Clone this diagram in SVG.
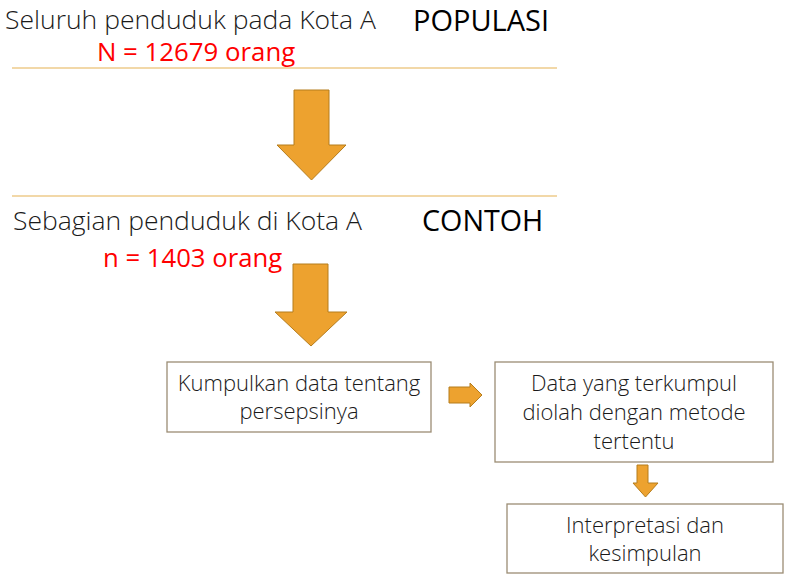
<svg xmlns="http://www.w3.org/2000/svg" width="797" height="586" viewBox="0 0 797 586">
<style>
.t{font-family:"Open Sans","Liberation Sans",sans-serif;font-weight:300;fill:#1a1a1a}
.h{font-family:"Open Sans","Liberation Sans",sans-serif;font-weight:400;fill:#000}
.r{font-family:"Open Sans","Liberation Sans",sans-serif;font-weight:400;fill:#ff0000}
.sep{stroke:#f2d8a8;stroke-width:2}
.arr{fill:#eda22f;stroke:#b57d1d;stroke-width:1}
.box{fill:#fff;stroke:#9b8d74;stroke-width:1.3}
</style>
<rect width="797" height="586" fill="#fff"/>
<g id="populasi">
<text class="t" x="5" y="28.5" font-size="26.5">Seluruh penduduk pada Kota A</text>
<text class="h" x="413" y="31" font-size="29">POPULASI</text>
<text class="r" x="97" y="61" font-size="25.8">N = 12679 orang</text>
<line class="sep" x1="12" y1="68" x2="557" y2="68"/>
</g>
<g id="contoh">
<line class="sep" x1="12" y1="196" x2="557" y2="196"/>
<text class="t" x="13" y="230" font-size="26.5">Sebagian penduduk di Kota A</text>
<text class="h" x="422" y="231" font-size="28.7">CONTOH</text>
<text class="r" x="103" y="267" font-size="25.7">n = 1403 orang</text>
</g>
<g id="kumpulkan">
<rect class="box" x="167" y="362" width="264" height="70"/>
<text class="t" x="299" y="391" font-size="22">Kumpulkan data tentang</text>
<text class="t" x="299" y="419" font-size="22">persepsinya</text>
</g>
<g id="diolah">
<rect class="box" x="495" y="362" width="278" height="100"/>
<text class="t" x="634" y="391" font-size="22">Data yang terkumpul</text>
<text class="t" x="634" y="420" font-size="22">diolah dengan metode</text>
<text class="t" x="634" y="449" font-size="22">tertentu</text>
</g>
<g id="interpretasi">
<rect class="box" x="507" y="504" width="276" height="69"/>
<text class="t" x="645" y="533" font-size="22">Interpretasi dan</text>
<text class="t" x="645" y="561" font-size="22">kesimpulan</text>
</g>
<g id="connectors">
<polygon class="arr" points="294,90 329,90 329,145 346,145 311.5,180 277,145 294,145"/>
<polygon class="arr" points="293,264 328,264 328,312 347,312 311,346 275,312 293,312"/>
<polygon class="arr" points="449,387 470,387 470,383 482,395 470,407 470,403 449,403"/>
<polygon class="arr" points="637,465 648,465 648,483 658,483 645.5,497 633,483 637,483"/>
</g>
<style>#kumpulkan text,#diolah text,#interpretasi text{text-anchor:middle}</style>
</svg>
